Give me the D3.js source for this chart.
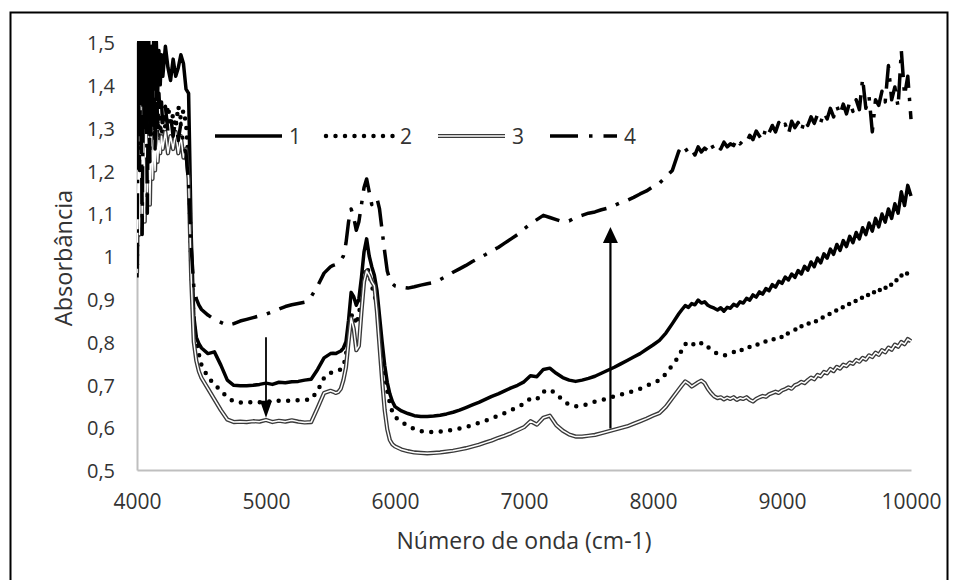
<!DOCTYPE html>
<html>
<head>
<meta charset="utf-8">
<script src="https://cdn.jsdelivr.net/npm/d3@7"></script>
<style>
  html, body { margin: 0; padding: 0; background: #ffffff; }
  svg { display: block; }
</style>
</head>
<body>
<svg id="chart" width="958" height="580"></svg>
<script>
// Wavenumbers (cm-1) shared by all four spectra
const wavenumber = [
  4000,4010,4020,4030,4040,4050,4060,4070,4080,4090,4100,4110,4120,4130,4140,4150,4160,4170,4180,4190,4200,
  4220,4240,4260,4280,4300,4320,4340,4360,4380,4400,4420,4440,4460,4480,4500,
  4550,4600,4650,4700,4750,4800,4850,4900,4950,5000,5050,5100,5150,5200,5250,5300,5350,5400,5450,5500,
  5520,5540,5560,5580,5600,5620,5640,5660,5680,5700,5720,5740,5760,5780,5800,5820,5840,5860,5880,5900,5920,5940,5960,5980,6000,
  6050,6100,6150,6200,6250,6300,6350,6400,6450,6500,
  6550,6600,6650,6700,6750,6800,6850,6900,6950,7000,
  7050,7100,7150,7200,7250,7300,7350,7400,7450,7500,
  7550,7600,7650,7700,7750,7800,7850,7900,7950,8000,
  8050,8100,8150,8200,
  8225,8250,8275,8300,8325,8350,8375,8400,
  8425,8450,8475,8500,8525,8550,8575,8600,
  8625,8650,8675,8700,8725,8750,8775,8800,
  8825,8850,8875,8900,8925,8950,8975,9000,
  9025,9050,9075,9100,9125,9150,9175,9200,
  9225,9250,9275,9300,9325,9350,9375,9400,
  9425,9450,9475,9500,9525,9550,9575,9600,
  9625,9650,9675,9700,9725,9750,9775,9800,
  9825,9850,9875,9900,9925,9950,9975,10000
];

// Absorbance, spectrum 1 (solid)
const absorb1 = [
  0.95,1.52,1.10,1.55,1.25,1.53,1.18,1.50,1.30,1.54,1.28,1.49,1.36,1.52,1.40,1.50,1.38,1.48,1.40,1.47,1.42,
  1.49,1.44,1.41,1.46,1.42,1.44,1.47,1.45,1.39,1.38,1.05,0.86,0.81,0.795,0.785,
  0.772,0.776,0.745,0.710,0.698,0.697,0.697,0.698,0.700,0.703,0.700,0.705,0.704,0.706,0.707,0.710,0.712,0.735,0.762,0.772,
  0.773,0.772,0.775,0.778,0.785,0.800,0.850,0.915,0.905,0.885,0.900,0.950,1.010,1.040,1.000,0.975,0.955,0.920,0.860,0.800,0.745,0.705,0.678,0.660,0.648,
  0.638,0.632,0.627,0.625,0.625,0.626,0.628,0.631,0.635,0.640,
  0.646,0.652,0.658,0.665,0.672,0.678,0.685,0.692,0.698,0.706,
  0.720,0.718,0.735,0.738,0.726,0.716,0.710,0.707,0.710,0.714,
  0.719,0.726,0.733,0.740,0.748,0.756,0.764,0.772,0.782,0.792,
  0.803,0.820,0.842,0.865,
  0.875,0.884,0.880,0.889,0.886,0.897,0.890,0.893,
  0.885,0.881,0.878,0.874,0.879,0.871,0.880,0.878,
  0.887,0.883,0.893,0.890,0.901,0.897,0.909,0.904,
  0.916,0.911,0.924,0.919,0.933,0.927,0.941,0.936,
  0.951,0.944,0.958,0.950,0.966,0.958,0.976,0.967,
  0.986,0.975,0.995,0.984,1.005,0.995,1.016,1.004,
  1.027,1.013,1.036,1.022,1.046,1.031,1.055,1.040,
  1.066,1.050,1.077,1.058,1.088,1.068,1.098,1.079,
  1.110,1.088,1.122,1.100,1.150,1.118,1.165,1.140
];

// Absorbance, spectrum 2 (round dots)
const absorb2 = [
  0.98,1.30,1.42,1.15,1.38,1.20,1.44,1.12,1.36,1.24,1.40,1.22,1.34,1.26,1.37,1.21,1.33,1.28,1.31,1.25,1.33,
  1.30,1.35,1.31,1.33,1.30,1.35,1.32,1.34,1.31,1.22,0.98,0.84,0.80,0.77,0.745,
  0.717,0.700,0.685,0.670,0.660,0.658,0.658,0.659,0.658,0.660,0.660,0.662,0.661,0.663,0.663,0.664,0.665,0.685,0.715,0.727,
  0.728,0.730,0.733,0.735,0.740,0.770,0.810,0.860,0.865,0.840,0.865,0.900,0.950,0.975,0.960,0.930,0.910,0.885,0.840,0.780,0.730,0.685,0.656,0.635,0.624,
  0.613,0.603,0.596,0.591,0.589,0.589,0.590,0.592,0.594,0.597,
  0.600,0.605,0.610,0.615,0.620,0.627,0.633,0.640,0.647,0.655,
  0.667,0.665,0.683,0.688,0.678,0.663,0.652,0.649,0.650,0.655,
  0.660,0.663,0.667,0.672,0.676,0.680,0.685,0.690,0.697,0.703,
  0.710,0.725,0.745,0.765,
  0.782,0.795,0.788,0.790,0.797,0.801,0.796,0.797,
  0.788,0.780,0.775,0.772,0.770,0.767,0.771,0.773,
  0.776,0.772,0.779,0.782,0.780,0.788,0.785,0.791,
  0.796,0.794,0.801,0.806,0.803,0.809,0.814,0.810,
  0.822,0.818,0.826,0.829,0.824,0.836,0.832,0.841,
  0.846,0.842,0.853,0.850,0.860,0.857,0.867,0.864,
  0.875,0.871,0.882,0.878,0.890,0.886,0.897,0.893,
  0.905,0.900,0.913,0.908,0.922,0.916,0.930,0.924,
  0.938,0.932,0.946,0.940,0.955,0.948,0.962,0.958
];

// Absorbance, spectrum 3 (double line)
const absorb3 = [
  0.96,1.25,1.05,1.35,1.10,1.30,1.08,1.32,1.15,1.28,1.12,1.30,1.18,1.27,1.20,1.29,1.22,1.27,1.24,1.28,1.25,
  1.29,1.24,1.28,1.25,1.29,1.24,1.28,1.23,1.25,1.18,0.95,0.80,0.755,0.730,0.715,
  0.690,0.665,0.640,0.618,0.612,0.613,0.612,0.614,0.613,0.617,0.612,0.615,0.613,0.616,0.613,0.611,0.612,0.645,0.680,0.685,
  0.683,0.680,0.682,0.690,0.710,0.740,0.800,0.855,0.830,0.780,0.790,0.870,0.940,0.965,0.955,0.940,0.930,0.870,0.790,0.710,0.640,0.595,0.570,0.560,0.555,
  0.548,0.544,0.541,0.540,0.539,0.540,0.541,0.543,0.545,0.548,
  0.551,0.555,0.559,0.564,0.569,0.575,0.580,0.586,0.593,0.600,
  0.614,0.606,0.622,0.627,0.605,0.592,0.583,0.578,0.578,0.580,
  0.582,0.586,0.590,0.594,0.598,0.602,0.608,0.614,0.620,0.627,
  0.633,0.648,0.668,0.688,
  0.698,0.707,0.702,0.695,0.700,0.705,0.709,0.703,
  0.690,0.680,0.672,0.668,0.670,0.665,0.669,0.666,
  0.670,0.664,0.668,0.666,0.670,0.664,0.660,0.666,
  0.670,0.673,0.671,0.677,0.680,0.683,0.680,0.686,
  0.689,0.693,0.690,0.698,0.701,0.706,0.703,0.710,
  0.716,0.712,0.722,0.719,0.729,0.726,0.736,0.731,
  0.741,0.737,0.746,0.743,0.751,0.748,0.757,0.753,
  0.762,0.758,0.768,0.764,0.774,0.769,0.780,0.775,
  0.786,0.781,0.793,0.788,0.799,0.794,0.806,0.801
];

// Absorbance, spectrum 4 (long dash - dot)
const absorb4 = [
  0.97,1.45,1.20,1.52,1.05,1.48,1.30,1.53,1.10,1.47,1.22,1.50,1.28,1.45,1.25,1.42,1.30,1.38,1.32,1.36,1.30,
  1.35,1.29,1.33,1.28,1.32,1.27,1.31,1.26,1.24,1.17,1.02,0.93,0.90,0.885,0.875,
  0.862,0.852,0.845,0.838,0.842,0.848,0.852,0.856,0.860,0.864,0.870,0.876,0.882,0.886,0.889,0.892,0.905,0.930,0.960,0.975,
  0.978,0.980,0.985,0.990,1.000,1.030,1.080,1.110,1.090,1.060,1.080,1.120,1.160,1.180,1.150,1.120,1.130,1.135,1.110,1.060,1.010,0.965,0.945,0.935,0.930,
  0.927,0.925,0.928,0.932,0.935,0.938,0.945,0.953,0.962,0.970,
  0.978,0.987,0.995,1.003,1.012,1.020,1.030,1.040,1.050,1.063,
  1.075,1.085,1.095,1.090,1.085,1.080,1.082,1.090,1.095,1.100,
  1.103,1.108,1.112,1.118,1.125,1.130,1.137,1.145,1.152,1.162,
  1.170,1.185,1.200,1.245,
  1.238,1.252,1.240,1.248,1.236,1.255,1.243,1.252,
  1.246,1.262,1.248,1.258,1.250,1.266,1.255,1.262,
  1.258,1.274,1.262,1.270,1.265,1.282,1.272,1.292,
  1.280,1.270,1.300,1.288,1.305,1.290,1.312,1.298,
  1.308,1.285,1.315,1.300,1.312,1.292,1.318,1.305,
  1.325,1.310,1.330,1.312,1.335,1.320,1.345,1.325,
  1.350,1.330,1.355,1.332,1.360,1.338,1.365,1.342,
  1.415,1.345,1.372,1.290,1.365,1.352,1.385,1.360,
  1.445,1.365,1.395,1.348,1.480,1.375,1.420,1.320
];

const seriesNames = ["1", "2", "3", "4"];
const xTicks = [4000, 5000, 6000, 7000, 8000, 9000, 10000];
const yTicks = [0.5, 0.6, 0.7, 0.8, 0.9, 1, 1.1, 1.2, 1.3, 1.4, 1.5];

// Arrows marking the change between spectra: [wavenumber, from, to]
const arrowDown = [5000, 0.81, 0.622];
const arrowUp = [7670, 0.597, 1.068];

const svg = d3.select("#chart");
const plot = { left: 137, right: 911, top: 42, bottom: 470 };
const FONT = "'Open Sans', 'Liberation Sans', sans-serif";
const INK = "#333333";

const x = d3.scaleLinear().domain([4000, 10000]).range([plot.left, plot.right]);
const y = d3.scaleLinear().domain([0.5, 1.5]).range([plot.bottom, plot.top]);

// outer frame
svg.append("rect")
  .attr("x", 10.5).attr("y", 12.5)
  .attr("width", 937).attr("height", 600)
  .attr("fill", "none").attr("stroke", "#000").attr("stroke-width", 2);

const fmt = d => String(d).replace(".", ",");

// axes
const gx = svg.append("g")
  .attr("transform", `translate(0,${plot.bottom})`)
  .call(d3.axisBottom(x).tickValues(xTicks).tickSize(0).tickPadding(24).tickFormat(d3.format("d")));
const gy = svg.append("g")
  .attr("transform", `translate(${plot.left},0)`)
  .call(d3.axisLeft(y).tickValues(yTicks).tickSize(0).tickPadding(22).tickFormat(fmt));

[gx, gy].forEach(g => {
  g.select(".domain").attr("stroke", "#bfbfbf").attr("stroke-width", 2);
  g.selectAll("text").attr("fill", INK).style("font-family", FONT);
});
gx.selectAll("text").style("font-size", "21px").attr("dy", "0.71em");
gy.selectAll("text").style("font-size", "20px").attr("dy", "0.38em");

// axis titles
svg.append("text")
  .attr("x", (plot.left + plot.right) / 2).attr("y", 549)
  .attr("text-anchor", "middle")
  .style("font-family", FONT).style("font-size", "23px").attr("fill", INK)
  .text("Número de onda (cm-1)");
svg.append("text")
  .attr("transform", `translate(72,${(plot.top + plot.bottom) / 2 + 2}) rotate(-90)`)
  .attr("text-anchor", "middle")
  .style("font-family", FONT).style("font-size", "23.5px").attr("fill", INK)
  .text("Absorbância");

// clip region for the spectra
svg.append("defs").append("clipPath").attr("id", "plotClip")
  .append("rect")
  .attr("x", plot.left).attr("y", plot.top - 1)
  .attr("width", plot.right - plot.left + 4).attr("height", plot.bottom - plot.top + 1);

const toPoints = vals => wavenumber.map((w, i) => [w, vals[i]]);
const line = d3.line().x(d => x(d[0])).y(d => y(d[1]));

// line styles per spectrum
const styles = [
  [{ stroke: "#000", width: 3.5, dash: null, cap: "butt" }],
  [{ stroke: "#000", width: 4.5, dash: "0,9.5", cap: "round" }],
  [{ stroke: "#3a3a3a", width: 4.2, dash: null, cap: "butt" },
   { stroke: "#fff", width: 1.5, dash: null, cap: "butt" }],
  [{ stroke: "#000", width: 3.5, dash: "26,10,3.5,10", cap: "butt" }]
];
const allSeries = [absorb1, absorb2, absorb3, absorb4];

const gLines = svg.append("g").attr("clip-path", "url(#plotClip)");
allSeries.forEach((vals, i) => {
  const pts = toPoints(vals);
  styles[i].forEach(s => {
    gLines.append("path")
      .datum(pts)
      .attr("d", line)
      .attr("fill", "none")
      .attr("stroke", s.stroke)
      .attr("stroke-width", s.width)
      .attr("stroke-linejoin", "round")
      .attr("stroke-linecap", s.cap)
      .attr("stroke-dasharray", s.dash);
  });
});

// arrows
function drawArrow(spec, headW, headL, lw) {
  const [w, v0, v1] = spec;
  const ax = x(w), y0 = y(v0), y1 = y(v1);
  const dir = y1 > y0 ? 1 : -1;
  svg.append("line")
    .attr("x1", ax).attr("x2", ax)
    .attr("y1", y0).attr("y2", y1 - dir * headL * 0.6)
    .attr("stroke", "#000").attr("stroke-width", lw);
  svg.append("path")
    .attr("d", `M${ax},${y1} L${ax - headW / 2},${y1 - dir * headL} L${ax + headW / 2},${y1 - dir * headL} Z`)
    .attr("fill", "#000");
}
drawArrow(arrowDown, 12, 17, 1.8);
drawArrow(arrowUp, 15, 16, 2.2);

// legend
const legendY = 136;
const legendX = [215, 326, 438, 550];
const legendLen = 67;
const gLeg = svg.append("g");
seriesNames.forEach((name, i) => {
  const x0 = legendX[i];
  styles[i].forEach(s => {
    gLeg.append("line")
      .attr("x1", x0).attr("x2", x0 + legendLen)
      .attr("y1", legendY).attr("y2", legendY)
      .attr("stroke", s.stroke)
      .attr("stroke-width", s.width)
      .attr("stroke-linecap", s.cap)
      .attr("stroke-dasharray", i === 3 ? "28,11,3.5,11" : s.dash);
  });
  gLeg.append("text")
    .attr("x", x0 + legendLen + 7).attr("y", legendY)
    .attr("dy", "0.36em")
    .style("font-family", FONT).style("font-size", "21px").attr("fill", INK)
    .text(name);
});
</script>
</body>
</html>
